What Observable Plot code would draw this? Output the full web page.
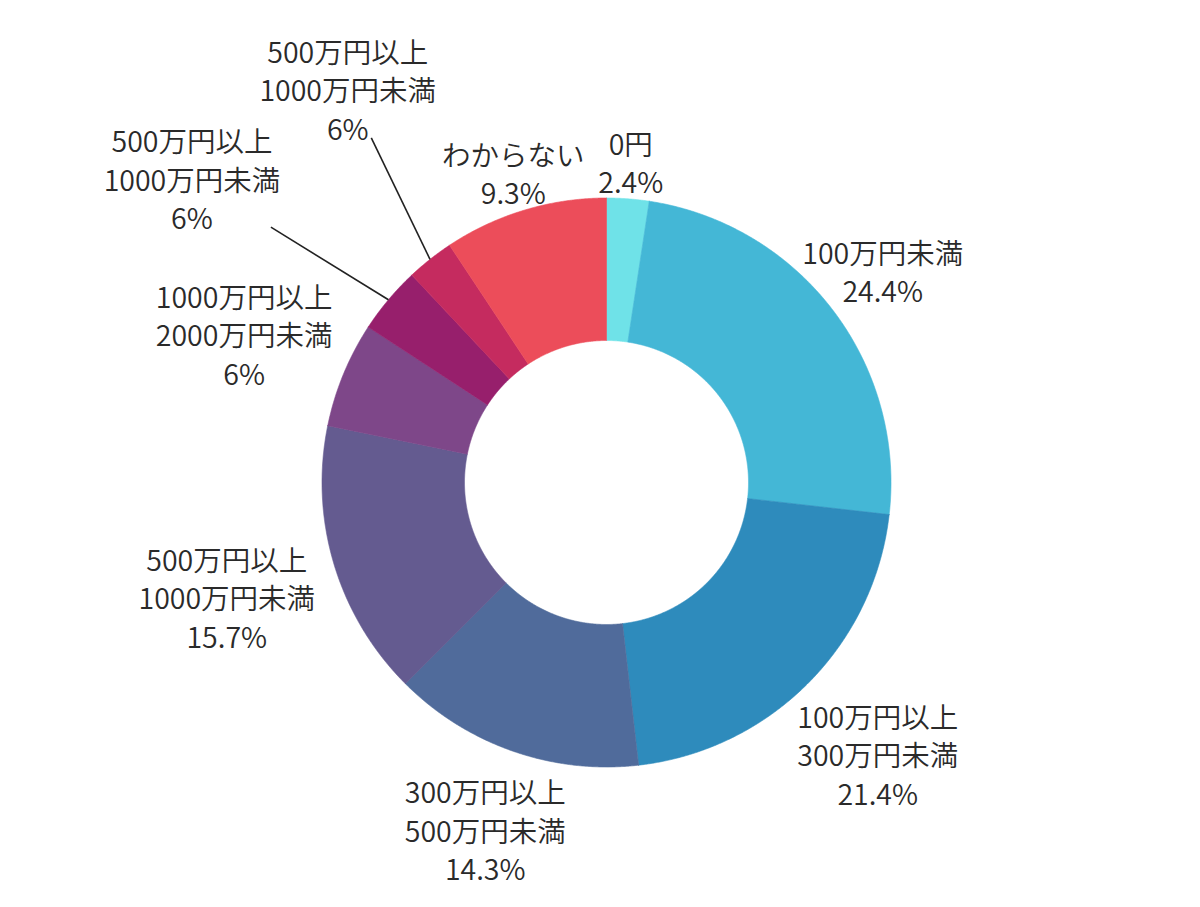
<!DOCTYPE html>
<html>
<head>
<meta charset="utf-8">
<script src="https://cdn.jsdelivr.net/npm/d3@7"></script>
<script src="https://cdn.jsdelivr.net/npm/@observablehq/plot@0.6"></script>
<style>
  html, body { margin: 0; padding: 0; background: #fff; }
  #chart svg { display: block; }
</style>
</head>
<body>
<div id="chart"></div>
<script>
// ---- data (clockwise from 12 o'clock) ----
const categories = [
  "0円",
  "100万円未満",
  "100万円以上\n300万円未満",
  "300万円以上\n500万円未満",
  "500万円以上\n1000万円未満",
  "1000万円以上\n2000万円未満",
  "500万円以上\n1000万円未満",
  "500万円以上\n1000万円未満",
  "わからない"
];
const values = [2.4, 24.4, 21.4, 14.3, 15.7, 6, 3.8, 2.7, 9.3];
const percentLabels = ["2.4%", "24.4%", "21.4%", "14.3%", "15.7%", "6%", "6%", "6%", "9.3%"];
const colors = ["#6fe2e8", "#44b7d6", "#2e8bbc", "#506b9b", "#645b90", "#7e4789", "#971f6c", "#c52b5f", "#ec4d5a"];

// ---- layout ----
const W = 1200, H = 907;
const cx = 606, cy = 482;          // donut centre in px
const R = 284.5, R0 = 142;         // outer / inner radius
const fontSize = 28.5;
const fontFamily = '"Noto Sans CJK JP", "Noto Sans", sans-serif';
const lh2 = 38, lh3 = 38.5;        // line spacing for 2- and 3-line labels
// labels pulled out with a connector: radius factor and angular nudge (deg)
const leaders = {6: {k: 1.807, nudge: -3.7}, 7: {k: 1.655, nudge: 5}};

const arcs = d3.pie().sort(null).value(d => d)(values);

// slice outlines
const pts = [];
arcs.forEach((a, i) => {
  const n = Math.max(2, Math.ceil((a.endAngle - a.startAngle) / 0.004));
  const ring = [];
  for (let j = 0; j <= n; j++) {
    const t = a.startAngle + (a.endAngle - a.startAngle) * j / n;
    ring.push([R * Math.sin(t), -R * Math.cos(t)]);
  }
  for (let j = n; j >= 0; j--) {
    const t = a.startAngle + (a.endAngle - a.startAngle) * j / n;
    ring.push([R0 * Math.sin(t), -R0 * Math.cos(t)]);
  }
  ring.push(ring[0]);
  ring.forEach(([x, y]) => pts.push({i, x, y}));
});

// label layout
const ctx = document.createElement("canvas").getContext("2d");
ctx.font = `${fontSize}px ${fontFamily}`;
const labels = [];
const connectors = [];
arcs.forEach((a, i) => {
  const lines = [...categories[i].split("\n"), percentLabels[i]];
  const n = lines.length;
  const w = Math.max(...lines.map(s => ctx.measureText(s).width));
  const span = (n === 2 ? lh2 : lh3) * (n - 1);
  const h = span + fontSize;
  let theta = (a.startAngle + a.endAngle) / 2;
  const s = Math.sin(theta), c = Math.cos(theta);
  const ext = Math.min(Math.abs(s) > 1e-6 ? (w / 2) / Math.abs(s) : Infinity,
                       Math.abs(c) > 1e-6 ? (h / 2) / Math.abs(c) : Infinity);
  let rho = R + (16 - 12 * c) + ext;
  const lead = leaders[i];
  if (lead) {
    theta = theta + lead.nudge * Math.PI / 180;
    rho = R * lead.k;
  }
  const lx = rho * Math.sin(theta), ly = -rho * Math.cos(theta);
  labels.push({x: lx, y: ly, text: lines.join("\n"), n});
  if (lead) {
    const m = (a.startAngle + a.endAngle) / 2;
    const px = R * Math.sin(m), py = -R * Math.cos(m);
    const dx = px - lx, dy = py - ly;
    const f = Math.min((w / 2) / Math.abs(dx), (h / 2 - 4) / Math.abs(dy));
    connectors.push({x1: px, y1: py, x2: lx + dx * f, y2: ly + dy * f});
  }
});

const textOpts = {x: "x", y: "y", text: "text", fontSize, fill: "#2a2a2a",
  textAnchor: "middle", lineAnchor: "middle", fontWeight: 350};

const chart = Plot.plot({
  width: W,
  height: H,
  margin: 0,
  x: {domain: [-cx, W - cx], range: [0, W], axis: null},
  y: {domain: [-cy, H - cy], range: [0, H], axis: null},
  color: {type: "ordinal", domain: d3.range(values.length), range: colors},
  style: {fontFamily, background: "#fff"},
  marks: [
    Plot.line(pts, {x: "x", y: "y", z: "i", fill: "i", stroke: "i", strokeWidth: 0.6, curve: "linear"}),
    Plot.link(connectors, {x1: "x1", y1: "y1", x2: "x2", y2: "y2", stroke: "#222", strokeWidth: 1.6}),
    Plot.text(labels.filter(d => d.n === 2), {...textOpts, lineHeight: lh2 / fontSize}),
    Plot.text(labels.filter(d => d.n === 3), {...textOpts, lineHeight: lh3 / fontSize})
  ]
});
document.getElementById("chart").appendChild(chart);
</script>
</body>
</html>
